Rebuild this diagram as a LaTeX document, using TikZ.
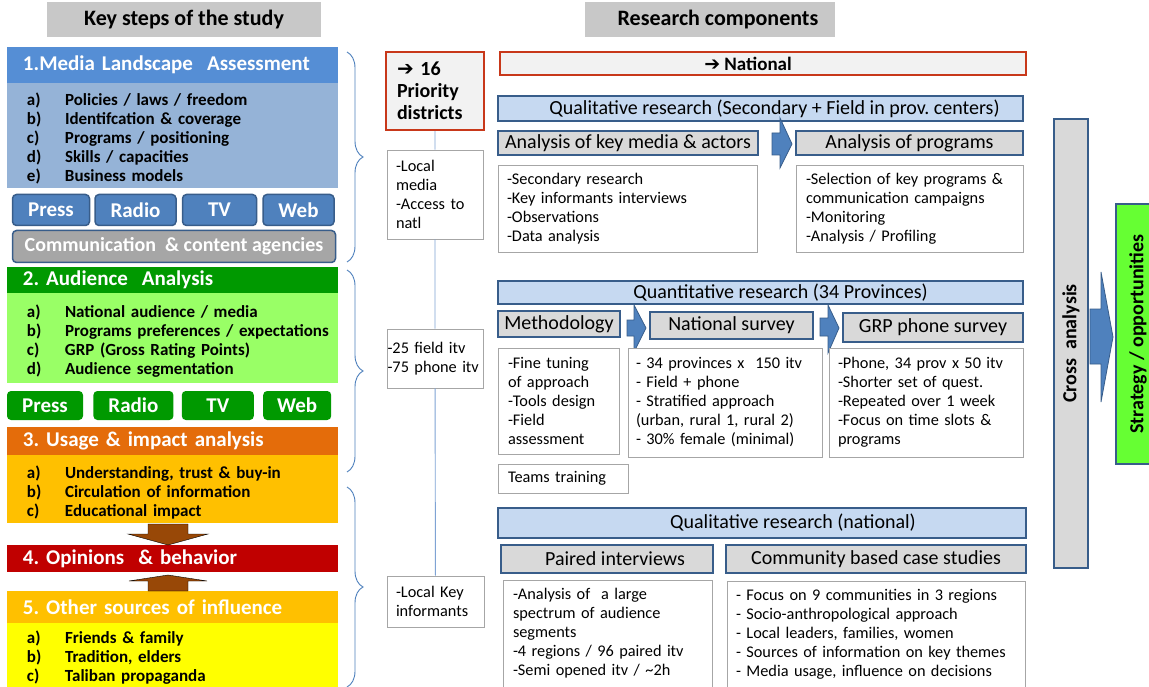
\documentclass[tikz,border=0pt]{standalone}
\usepackage{fontspec}
\setmainfont{Carlito}
\newfontfamily\arrowfont{DejaVu Sans}
\usepackage{xcolor}
\usepackage{tikz}
\usetikzlibrary{positioning, decorations.pathreplacing}
\frenchspacing

\definecolor{hdrgray}{HTML}{C8C8C8}
\definecolor{landblue}{HTML}{558ED5}
\definecolor{landbody}{HTML}{95B3D7}
\definecolor{btnblue}{HTML}{4F81BD}
\definecolor{edgeblue}{HTML}{385D8A}
\definecolor{agencygray}{HTML}{A6A6A6}
\definecolor{audgreen}{HTML}{009900}
\definecolor{audbody}{HTML}{99FF66}
\definecolor{useorange}{HTML}{E46C0A}
\definecolor{usebody}{HTML}{FFC000}
\definecolor{opinred}{HTML}{C00000}
\definecolor{srcyellow}{HTML}{FFFF00}
\definecolor{brownarr}{HTML}{984807}
\definecolor{redframe}{HTML}{C8381A}
\definecolor{paleframe}{HTML}{F2F2F2}
\definecolor{qualblue}{HTML}{C6D9F1}
\definecolor{subgray}{HTML}{D9D9D9}
\definecolor{framegray}{HTML}{A6A6A6}
\definecolor{stratgreen}{HTML}{66FF33}
\definecolor{linkblue}{HTML}{7FA3D4}

\newcommand{\itm}[2]{\makebox[38pt][l]{#1}\mbox{#2}}

\begin{document}
\begin{tikzpicture}[
    x=1pt, y=-1pt,
    hdr/.style={fill=hdrgray, minimum height=35pt, inner sep=0pt, font=\bfseries\fontsize{22}{26}\selectfont},
    steptitle/.style={minimum width=331pt, text width=299pt, inner xsep=16pt, inner ysep=0pt, text=white, font=\bfseries\fontsize{21}{25}\selectfont},
    stepbody/.style={minimum width=331pt, text width=291pt, inner xsep=20pt, inner ysep=0pt, align=left, font=\bfseries\fontsize{17}{19}\selectfont, execute at begin node={\rule{0pt}{18pt}}},
    mediabtn/.style={rounded corners=4pt, inner sep=0pt, minimum height=31pt, text=white, font=\bfseries\fontsize{21}{25}\selectfont},
    bluebtn/.style={mediabtn, draw=edgeblue, line width=1.5pt, fill=btnblue},
    greenbtn/.style={mediabtn, fill=audgreen, minimum height=29pt},
    redbox/.style={draw=redframe, line width=2.5pt, fill=paleframe, inner sep=0pt},
    rowhead/.style={draw=edgeblue, line width=2pt, fill=qualblue, inner sep=0pt, font=\fontsize{20}{23}\selectfont},
    subhead/.style={draw=edgeblue, line width=2pt, fill=subgray, inner sep=0pt, font=\fontsize{20}{23}\selectfont},
    detail/.style={draw=framegray, line width=0.8pt, fill=white, inner xsep=9pt, inner ysep=0pt, align=left, font=\fontsize{16.3}{19}\selectfont},
    link/.style={draw=linkblue, line width=0.9pt},
    bracket/.style={draw=btnblue, line width=0.9pt, decorate, decoration={brace, amplitude=16pt}},
    blockarr/.style={fill=btnblue, draw=edgeblue, line width=0.8pt},
    brownblock/.style={fill=brownarr}
]
\fill[white] (0,0) rectangle (1149,687);
\useasboundingbox (0,0) rectangle (1149,687);

% Headers
\node[hdr, minimum width=274pt] (keyhdr) at (184,19.5) {Key steps of the study};
\node[hdr, minimum width=250pt] (reshdr) at (710,19.5) {\hspace*{16pt}Research components};

% 1. Media landscape
\node[steptitle, fill=landblue, minimum height=36pt] (landscape) at (172.5,65) {1.Media Landscape~ Assessment};
\node[stepbody, fill=landbody, minimum height=105pt, below=0pt of landscape] (landbody) {\itm{a)}{Policies / laws / freedom}\\\itm{b)}{Identifcation \& coverage}\\\itm{c)}{Programs / positioning}\\\itm{d)}{Skills / capacities}\\\itm{e)}{Business models}};
\node[bluebtn, minimum width=77pt] (press1) at (51,210) {Press};
\node[bluebtn, minimum width=81pt, right=4pt of press1] (radio1) {Radio};
\node[bluebtn, minimum width=74pt, right=5pt of radio1] (tv1) {TV};
\node[bluebtn, minimum width=71pt, right=5pt of tv1] (web1) {Web};
\node[bluebtn, fill=agencygray, minimum width=323pt, minimum height=32pt, font=\bfseries\fontsize{20}{24}\selectfont] (agencies) at (174,246.5) {Communication~ \& content agencies};

% 2. Audience analysis
\node[steptitle, fill=audgreen, minimum height=26pt] (audience) at (172.5,280) {2. Audience~ Analysis};
\node[stepbody, fill=audbody, minimum height=90pt, below=0pt of audience] (audbody) {\itm{a)}{National audience / media}\\\itm{b)}{Programs preferences / expectations}\\\itm{c)}{GRP (Gross Rating Points)}\\\itm{d)}{Audience segmentation}};
\node[greenbtn, minimum width=76pt] (press2) at (45,405.5) {Press};
\node[greenbtn, minimum width=80pt, right=10pt of press2] (radio2) {Radio};
\node[greenbtn, minimum width=72pt, right=8pt of radio2] (tv2) {TV};
\node[greenbtn, minimum width=68pt, right=9pt of tv2] (web2) {Web};

% 3. Usage, 4. Opinions, 5. Other sources
\node[steptitle, fill=useorange, minimum height=28pt] (usage) at (172.5,441) {3. Usage \& impact analysis};
\node[stepbody, fill=usebody, minimum height=68pt, below=0pt of usage] (usebody) {\itm{a)}{Understanding, trust \& buy-in}\\\itm{b)}{Circulation of information}\\\itm{c)}{Educational impact}};
\node[steptitle, fill=opinred, minimum height=27pt] (opinions) at (172.5,558.5) {4. Opinions~ \& behavior};
\node[steptitle, fill=usebody, minimum height=32pt] (sources) at (172.5,607) {5. Other sources of influence};
\node[stepbody, fill=srcyellow, minimum height=64pt, below=0pt of sources] (srcbody) {\itm{a)}{Friends \& family}\\\itm{b)}{Tradition, elders}\\\itm{c)}{Taliban propaganda}};
\draw[brownblock] (148,524) -- (188,524) -- (188,534) -- (208,534) -- (168,545) -- (128,534) -- (148,534) -- cycle;
\draw[brownblock] (168,575) -- (207,581) -- (188,581) -- (188,591) -- (148,591) -- (148,581) -- (129,581) -- cycle;

% Brackets
\draw[bracket] (347,52) -- (347,262);
\draw[bracket] (347,270) -- (347,472);
\draw[bracket] (347,487) -- (347,687);

% Priority districts column
\node[redbox, minimum width=98pt, minimum height=78pt, text width=76pt, inner xsep=11pt, align=left, font=\bfseries\fontsize{20}{22}\selectfont] (priority) at (435,91) {{\arrowfont ➔} 16\\Priority\\districts};
\node[detail, minimum width=96pt, minimum height=89pt, text width=78pt] (localmedia) at (435,194.5) {-Local\\media\\-Access to\\natl};
\node[detail, minimum width=96pt, minimum height=59pt, text width=95pt, inner xsep=0.5pt] (fielditv) at (435,358.5) {-25 field itv\\-75 phone itv};
\node[detail, minimum width=97pt, minimum height=51pt, text width=79pt] (keyinf) at (435.5,601.5) {-Local Key\\informants};
\draw[link] (priority) -- (localmedia) -- (fielditv) -- (keyinf);

% National: qualitative research in provincial centers
\node[redbox, minimum width=526pt, minimum height=23pt, font=\bfseries\fontsize{19}{22}\selectfont] (national) at (763,63.5) {{\arrowfont ➔} National\hspace*{30pt}};
\node[rowhead, minimum width=525pt, minimum height=25pt] (qualprov) at (760.5,108.5) {\hspace*{28pt}Qualitative research (Secondary + Field in prov. centers)};
\node[subhead, minimum width=260pt, minimum height=24pt] (keymedia) at (628,143) {Analysis of key media \& actors};
\node[subhead, minimum width=227pt, minimum height=24pt] (programs) at (909.5,143) {Analysis of programs};
\draw[blockarr] (772,133) -- (780,133) -- (780,118) -- (792,144) -- (780,168) -- (780,155) -- (772,155) -- cycle;
\node[detail, minimum width=259pt, minimum height=87pt, text width=241pt] (keymediadet) at (627.5,208.5) {-Secondary research\\-Key informants interviews\\-Observations\\-Data analysis};
\node[detail, minimum width=227pt, minimum height=87pt, text width=207pt, inner xsep=10pt] (programsdet) at (909.5,208.5) {-Selection of key programs \&\\communication campaigns\\-Monitoring\\-Analysis / Profiling};

% Quantitative research
\node[rowhead, minimum width=525pt, minimum height=23pt] (quantprov) at (760.5,292.5) {\hspace*{40pt}Quantitative research (34 Provinces)};
\node[subhead, minimum width=122pt, minimum height=26pt] (method) at (559,324) {Methodology};
\node[subhead, minimum width=163pt, minimum height=27pt] (natsurvey) at (731.5,325.5) {National survey};
\node[subhead, minimum width=180pt, minimum height=29pt] (grpsurvey) at (933,327.5) {GRP phone survey};
\draw[blockarr] (627,320) -- (634,320) -- (634,305) -- (646,328) -- (634,352) -- (634,336) -- (627,336) -- cycle;
\draw[blockarr] (820,318) -- (828,318) -- (828,305) -- (839,328) -- (828,353) -- (828,336) -- (820,336) -- cycle;
\node[detail, minimum width=121pt, minimum height=106pt, text width=101pt, inner xsep=10pt] (methoddet) at (558.5,401) {-Fine tuning\\of approach\\-Tools design\\-Field\\assessment};
\node[detail, minimum width=194pt, minimum height=109pt, text width=178pt, inner xsep=8pt] (natsurveydet) at (725,402.5) {- 34 provinces x~ 150 itv\\- Field + phone\\- Stratified approach\\(urban, rural 1, rural 2)\\- 30\% female (minimal)};
\node[detail, minimum width=194pt, minimum height=109pt, text width=176pt] (grpdet) at (926,402.5) {-Phone, 34 prov x 50 itv\\-Shorter set of quest.\\-Repeated over 1 week\\-Focus on time slots \&\\programs};
\node[detail, minimum width=130pt, minimum height=29pt, text width=110pt, inner xsep=10pt] (training) at (563,478.5) {Teams training};

% Qualitative research (national)
\node[rowhead, minimum width=528pt, minimum height=30pt] (qualnat) at (762,523) {\hspace*{62pt}Qualitative research (national)};
\node[subhead, minimum width=212pt, minimum height=28pt] (paired) at (607,559) {\hspace*{16pt}Paired interviews};
\node[subhead, minimum width=300pt, minimum height=28pt] (community) at (876,559) {Community based case studies};
\node[detail, minimum width=209pt, minimum height=107pt, text width=189pt, inner xsep=10pt] (paireddet) at (607.5,633.5) {-Analysis of~ a large\\spectrum of audience\\segments\\-4 regions / 96 paired itv\\-Semi opened itv / \textasciitilde2h};
\node[detail, minimum width=298pt, minimum height=106pt, text width=280pt] (communitydet) at (876,634) {- Focus on 9 communities in 3 regions\\- Socio-anthropological approach\\- Local leaders, families, women\\- Sources of information on key themes\\- Media usage, influence on decisions};

% Cross analysis and strategy
\node[draw=edgeblue, line width=2pt, fill=subgray, rotate=90, minimum width=449pt, minimum height=34pt, inner sep=0pt, font=\bfseries\fontsize{20}{24}\selectfont] (cross) at (1071,343.5) {Cross~ analysis};
\draw[blockarr] (1090,309) -- (1101,309) -- (1101,272) -- (1113,337) -- (1101,402) -- (1101,364) -- (1090,364) -- cycle;
\node[draw=edgeblue, line width=2pt, fill=stratgreen, rotate=90, minimum width=260pt, minimum height=44pt, inner sep=0pt, font=\bfseries\fontsize{20}{24}\selectfont] (strategy) at (1138,334) {Strategy / opportunities};

\end{tikzpicture}
\end{document}
